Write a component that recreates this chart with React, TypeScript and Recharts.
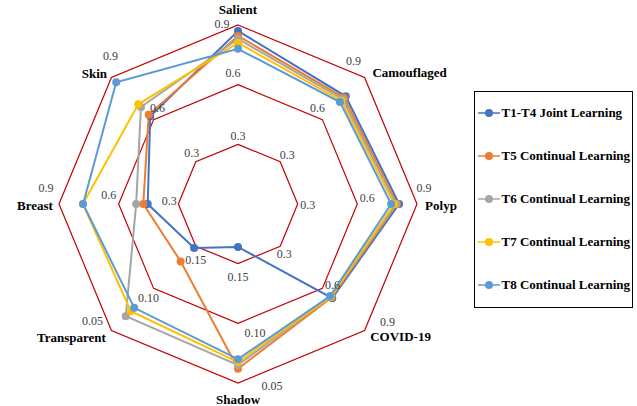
import React from "react";
import { RadarChart, Radar, PolarGrid, PolarAngleAxis, PolarRadiusAxis } from "recharts";

const AXES = ["Salient", "Camouflaged", "Polyp", "COVID-19", "Shadow", "Transparent", "Breast", "Skin"];
// Shadow and Transparent are error scores, so their axes run the other way (0.15 inside, 0.05 outside)
const REVERSED = [false, false, false, false, true, true, false, false];
const RING_LABELS = [
  ["0.3", "0.6", "0.9"],
  ["0.3", "0.6", "0.9"],
  ["0.3", "0.6", "0.9"],
  ["0.3", "0.6", "0.9"],
  ["0.15", "0.10", "0.05"],
  ["0.15", "0.10", "0.05"],
  ["0.3", "0.6", "0.9"],
  ["0.3", "0.6", "0.9"],
];

const T1_T4 = [0.87, 0.766, 0.81, 0.67, 0.164, 0.148, 0.454, 0.624];
const T5 = [0.845, 0.755, 0.8, 0.665, 0.062, 0.132, 0.476, 0.635];
const T6 = [0.83, 0.745, 0.795, 0.66, 0.065, 0.067, 0.512, 0.69];
const T7 = [0.81, 0.735, 0.785, 0.66, 0.0675, 0.073, 0.78, 0.709];
const T8 = [0.78, 0.725, 0.77, 0.655, 0.07, 0.077, 0.779, 0.866];

const SERIES = [
  { key: "t1", name: "T1-T4 Joint Learning", values: T1_T4, color: "#4472C4" },
  { key: "t5", name: "T5 Continual Learning", values: T5, color: "#ED7D31" },
  { key: "t6", name: "T6 Continual Learning", values: T6, color: "#A5A5A5" },
  { key: "t7", name: "T7 Continual Learning", values: T7, color: "#FFC000" },
  { key: "t8", name: "T8 Continual Learning", values: T8, color: "#5B9BD5" },
];

// map each axis onto rings 0..3
const toRing = (v: number, rev: boolean) => (rev ? (0.2 - v) / 0.05 : v / 0.3);

const data = AXES.map((axis, i) => {
  const row: any = { axis };
  SERIES.forEach((s) => {
    row[s.key] = toRing(s.values[i], REVERSED[i]);
  });
  return row;
});

const FONT = "Liberation Serif";
const CX = 238;
const CY = 204;
const R = 179;

// label nudges (px) from the outer vertex / ring vertices
const NAME_NUDGE = [[0, -16], [45, -5], [24, 1], [36, 6], [0, 16], [-40, 7], [-24, 1], [-17, -4]];
const RING_NUDGE = [
  [[0, -9], [-5, -12], [-16, -1]],
  [[7, -7], [-5, -12], [-11, -17]],
  [[10, 1], [10, -6], [7, -16]],
  [[4, 8], [10, -4], [23, -9]],
  [[0, 13], [17, 9], [34, 3]],
  [[0, 14], [-5, 9], [-19, -10]],
  [[-9, -3], [-10, -9], [-13, -16]],
  [[-4, -9], [4, -12], [-1, -22]],
];

function vertex(i: number, r: number) {
  const a = ((90 - 45 * i) * Math.PI) / 180;
  return [CX + r * Math.cos(a), CY - r * Math.sin(a)];
}

function AxisTick(props: any) {
  const i = AXES.indexOf(props.payload.value);
  if (i < 0) return null;
  const [vx, vy] = vertex(i, R);
  return (
    <g>
      {RING_LABELS[i].map((lab, k) => {
        const [rx, ry] = vertex(i, (R * (k + 1)) / 3);
        const [ox, oy] = RING_NUDGE[i][k];
        return (
          <text key={k} x={rx + ox} y={ry + oy} dy="0.35em" textAnchor="middle" fontSize={12} fill="#404040" fontFamily={FONT}>
            {lab}
          </text>
        );
      })}
      <text x={vx + NAME_NUDGE[i][0]} y={vy + NAME_NUDGE[i][1]} dy="0.35em" textAnchor="middle" fontSize={13} fontWeight="bold" fill="#000" fontFamily={FONT}>
        {AXES[i]}
      </text>
    </g>
  );
}

function LegendBox() {
  return (
    <div
      style={{
        position: "absolute",
        left: 474,
        top: 91,
        width: 159,
        height: 217,
        border: "1.5px solid #000",
        boxSizing: "border-box",
        fontFamily: FONT,
      }}
    >
      {SERIES.map((s, i) => (
        <div
          key={s.key}
          style={{
            position: "absolute",
            left: 2.5,
            top: 22 + 43 * i - 1.5 - 8,
            height: 16,
            display: "flex",
            alignItems: "center",
            whiteSpace: "nowrap",
          }}
        >
          <svg width={24} height={10}>
            <line x1={0} y1={5} x2={22} y2={5} stroke={s.color} strokeWidth={1.5} />
            <circle cx={11} cy={5} r={4} fill={s.color} />
          </svg>
          <span style={{ fontSize: 13, fontWeight: "bold", color: "#000" }}>{s.name}</span>
        </div>
      ))}
    </div>
  );
}

export default function App() {
  return (
    <div style={{ position: "absolute", left: 0, top: 0, width: 637, height: 406, background: "#fff", fontFamily: FONT }}>
      <RadarChart
        width={637}
        height={406}
        cx={CX}
        cy={CY}
        outerRadius={R}
        margin={{ top: 0, right: 0, bottom: 0, left: 0 }}
        data={data}
      >
        <PolarGrid gridType="polygon" radialLines={false} stroke="#C00000" strokeWidth={1.2} />
        <PolarRadiusAxis domain={[0, 3]} tickCount={4} tick={false} axisLine={false} angle={90} />
        <PolarAngleAxis dataKey="axis" tick={<AxisTick />} tickLine={false} axisLine={false} />
        {SERIES.map((s) => (
          <Radar
            key={s.key}
            name={s.name}
            dataKey={s.key}
            stroke={s.color}
            strokeWidth={2}
            fill="none"
            fillOpacity={0}
            dot={{ r: 4, fill: s.color, stroke: s.color, strokeWidth: 0, fillOpacity: 1 }}
            isAnimationActive={false}
          />
        ))}
      </RadarChart>
      <LegendBox />
    </div>
  );
}
